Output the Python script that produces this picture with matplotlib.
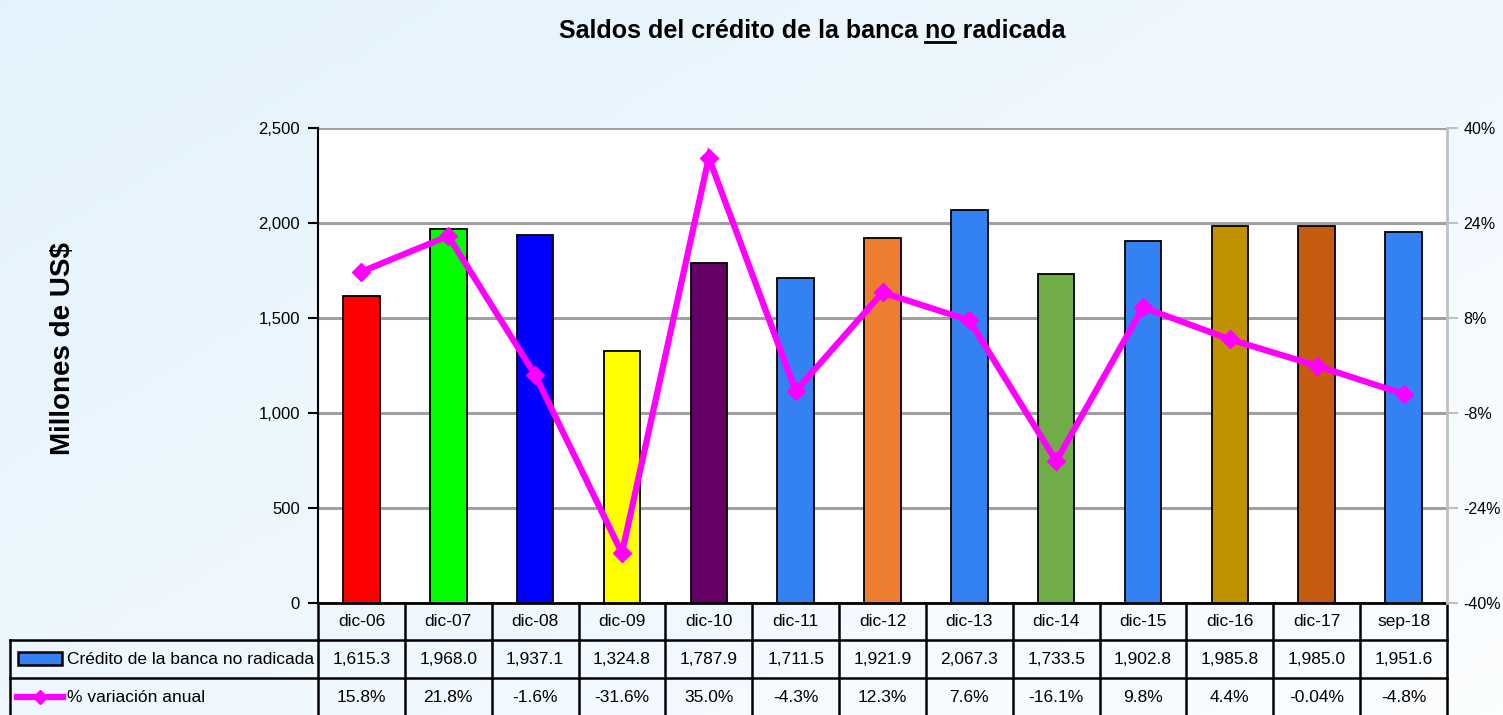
import numpy as np
import matplotlib
matplotlib.use("Agg")
import matplotlib.pyplot as plt
from matplotlib.transforms import blended_transform_factory
from matplotlib.patches import Rectangle
from matplotlib.lines import Line2D

periods = ["dic-06", "dic-07", "dic-08", "dic-09", "dic-10", "dic-11", "dic-12",
           "dic-13", "dic-14", "dic-15", "dic-16", "dic-17", "sep-18"]
credito = [1615.3, 1968.0, 1937.1, 1324.8, 1787.9, 1711.5, 1921.9,
           2067.3, 1733.5, 1902.8, 1985.8, 1985.0, 1951.6]
variacion = [15.8, 21.8, -1.6, -31.6, 35.0, -4.3, 12.3, 7.6, -16.1, 9.8, 4.4, -0.04, -4.8]
variacion_txt = ["15.8%", "21.8%", "-1.6%", "-31.6%", "35.0%", "-4.3%", "12.3%",
                 "7.6%", "-16.1%", "9.8%", "4.4%", "-0.04%", "-4.8%"]
bar_colors = ["#FF0000", "#00FF00", "#0000FF", "#FFFF00", "#660066", "#3381F2", "#ED7D31",
              "#3381F2", "#70AD47", "#3381F2", "#BF9000", "#C55A11", "#3381F2"]
left_ticks = [0, 500, 1000, 1500, 2000, 2500]
right_ticks = [-40, -24, -8, 8, 24, 40]

plt.rcParams["font.family"] = ["Liberation Sans", "DejaVu Sans"]

W, H = 1503, 715
fig = plt.figure(figsize=(W / 100, H / 100), dpi=100)

# light blue gradient background
bg = fig.add_axes([0, 0, 1, 1], zorder=-10)
gx, gy = np.meshgrid(np.linspace(0, 1, 200), np.linspace(0, 1, 100))
t = np.clip(0.55 * gx + 0.45 * gy, 0, 1)
c0 = np.array([0.89, 0.95, 0.99])
c1 = np.array([0.985, 0.993, 1.0])
img = c0[None, None, :] * (1 - t[..., None]) + c1[None, None, :] * t[..., None]
bg.imshow(img, aspect="auto", extent=[0, 1, 0, 1], origin="upper")
bg.axis("off")

L, R, T, B = 318, 1447, 128, 603
ax = fig.add_axes([L / W, 1 - B / H, (R - L) / W, (B - T) / H])
ax.set_facecolor("white")
x = np.arange(len(periods))
ax.bar(x, credito, width=0.42, color=bar_colors, edgecolor="black", linewidth=1.3, zorder=3)
ax.set_xlim(-0.5, len(periods) - 0.5)
ax.set_ylim(0, 2500)
ax.set_yticks(left_ticks)
ax.set_yticklabels([f"{v:,}" for v in left_ticks], fontsize=12)
ax.set_xticks([])
ax.set_axisbelow(True)
ax.yaxis.grid(True, color="#A0A0A0", linewidth=2.2)
ax.tick_params(axis="y", direction="out", length=7, width=1.5, color="black", pad=6)
for s in ["top", "right"]:
    ax.spines[s].set_visible(False)
ax.spines["left"].set_linewidth(1.5)
ax.spines["bottom"].set_linewidth(2)
ax.set_ylabel("Millones de US$", fontsize=20, fontweight="bold", labelpad=0)
ax.yaxis.set_label_coords(-0.214, 0.535)

ax2 = ax.twinx()
ax2.plot(x, variacion, color="#FF00FF", linewidth=4.5, marker="D", markersize=9,
         solid_joinstyle="miter", zorder=5)
ax2.set_ylim(-40, 40)
ax2.set_yticks(right_ticks)
ax2.set_yticklabels([f"{v}%" for v in right_ticks], fontsize=11.5)
ax2.tick_params(axis="y", direction="out", length=8, width=1.5, color="#C0C0C0", pad=4)
for s in ["top", "left", "bottom"]:
    ax2.spines[s].set_visible(False)
ax2.spines["right"].set_color("#C0C0C0")
ax2.spines["right"].set_linewidth(2)

# data table below the plot
tr = blended_transform_factory(ax.transData, ax.transAxes)
ph = B - T
rows = [0, -37 / ph, -75 / ph, -114 / ph]
unit = (R - L) / len(periods)


def px2x(px):
    return -0.5 + (px - L) / unit


xl = px2x(10)
lw = 1.8
for i in range(len(periods) + 1):
    xi = i - 0.5
    ax.add_line(Line2D([xi, xi], [rows[0], rows[3]], transform=tr, color="black",
                       lw=lw, clip_on=False))
for r in rows[1:]:
    ax.add_line(Line2D([xl, len(periods) - 0.5], [r, r], transform=tr, color="black",
                       lw=lw, clip_on=False))
ax.add_line(Line2D([xl, xl], [rows[1], rows[3]], transform=tr, color="black",
                   lw=lw, clip_on=False))
fs = 12.5
for i, p in enumerate(periods):
    ax.text(i, (rows[0] + rows[1]) / 2, p, transform=tr, ha="center", va="center", fontsize=fs)
    ax.text(i, (rows[1] + rows[2]) / 2, f"{credito[i]:,.1f}", transform=tr,
            ha="center", va="center", fontsize=fs)
    ax.text(i, (rows[2] + rows[3]) / 2, variacion_txt[i], transform=tr,
            ha="center", va="center", fontsize=fs)

ax.add_patch(Rectangle((px2x(18), -(665 - B) / ph), px2x(62) - px2x(18), 13 / ph,
                       transform=tr, facecolor="#3381F2", edgecolor="black", lw=1.8,
                       clip_on=False))
ax.text(px2x(67), (rows[1] + rows[2]) / 2, "Crédito de la banca no radicada", transform=tr,
        ha="left", va="center", fontsize=fs)
ax.add_line(Line2D([px2x(17), px2x(63)], [-(697 - B) / ph] * 2, transform=tr,
                   color="#FF00FF", lw=4.5, clip_on=False))
ax.add_line(Line2D([px2x(40)], [-(697 - B) / ph], transform=tr, color="#FF00FF",
                   marker="D", markersize=7, clip_on=False))
ax.text(px2x(67), (rows[2] + rows[3]) / 2, "% variación anual", transform=tr,
        ha="left", va="center", fontsize=fs)

# title with underlined "no"
title_kw = dict(fontsize=18, fontweight="bold", va="baseline")
ty = 1 - 38 / H
full = "Saldos del crédito de la banca no radicada"
fig.canvas.draw()
rend = fig.canvas.get_renderer()


def tw(s):
    tt = fig.text(0, 0, s, **title_kw)
    w = tt.get_window_extent(rend).width
    tt.remove()
    return w


wfull = tw(full)
space = tw("a a") - tw("aa")
pre = tw("Saldos del crédito de la banca") + space
wno = tw("no")
cx = 812
x0 = cx - wfull / 2
fig.text(x0 / W, ty, full, ha="left", **title_kw)
fig.add_artist(Line2D([(x0 + pre) / W, (x0 + pre + wno) / W], [ty - 4 / H, ty - 4 / H],
                      color="black", lw=2))

fig.savefig("out.png", dpi=100)
